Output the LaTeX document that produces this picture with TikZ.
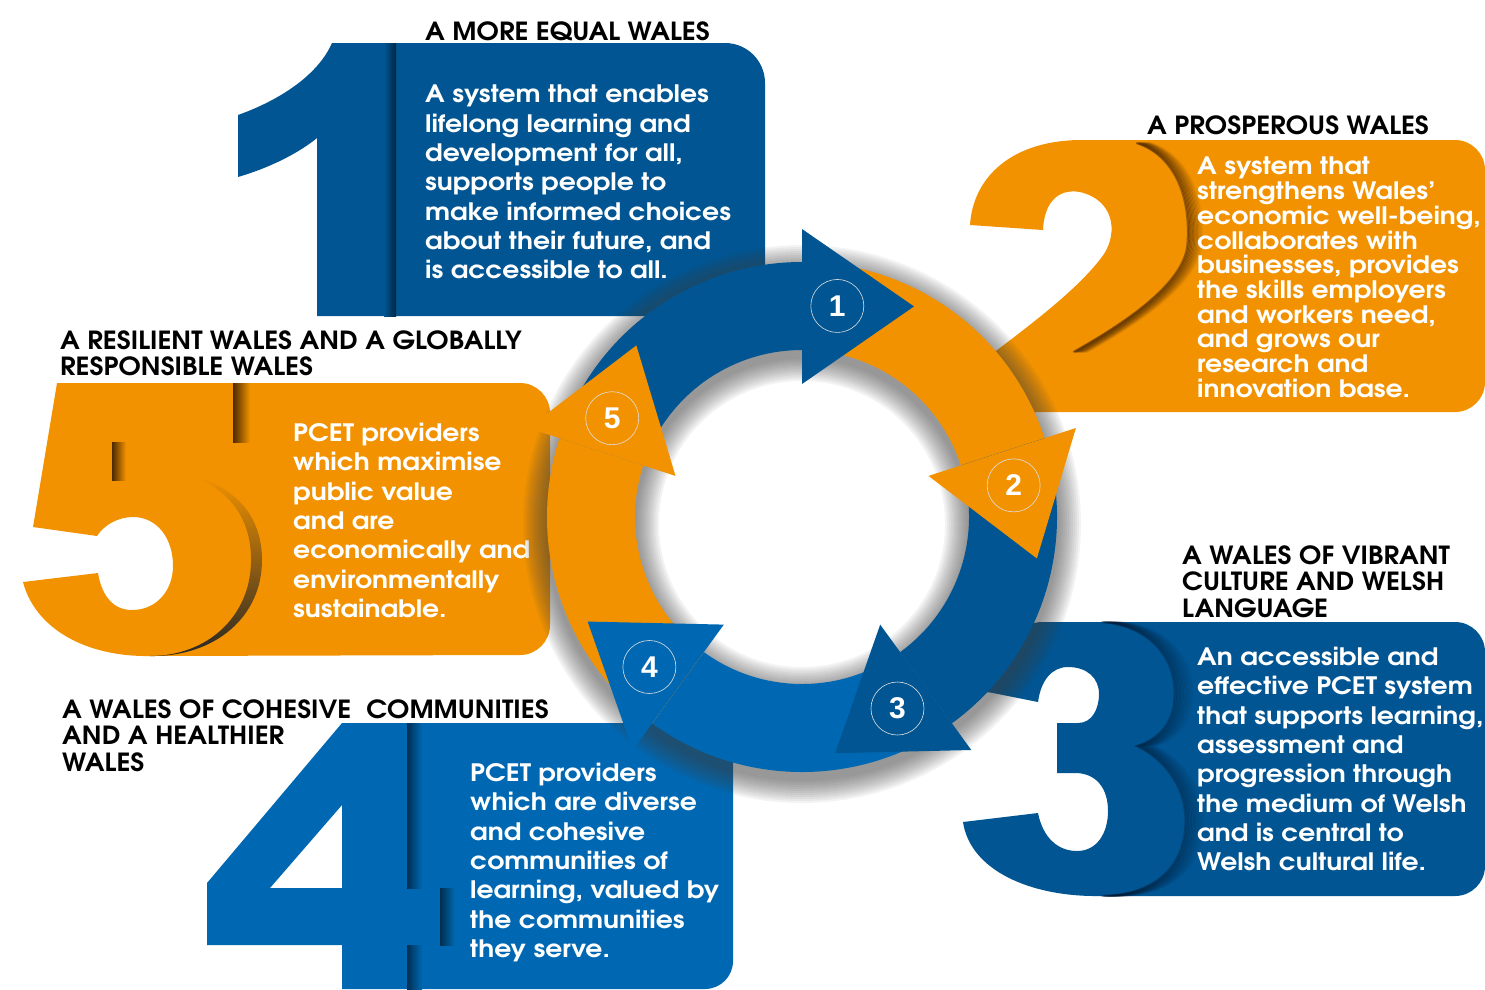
\documentclass[tikz,border=0pt]{standalone}
\usepackage{fontspec}
\setmainfont{texgyreadventor}[Extension=.otf, UprightFont=*-regular, BoldFont=*-bold, ItalicFont=*-italic, BoldItalicFont=*-bolditalic]
\newfontfamily\bodyfont{texgyreadventor-bold.otf}[FakeStretch=1.11]
\newfontfamily\headfont{texgyreadventor-bold.otf}[FakeStretch=1.07]
\newfontfamily\labelfont{Liberation Sans}
\usetikzlibrary{calc}
\definecolor{walesblue}{HTML}{005592}
\definecolor{walesmid}{HTML}{0068B2}
\definecolor{walesorange}{HTML}{F29200}
\definecolor{orangeshade}{HTML}{4E2A00}
\definecolor{blueshade}{HTML}{001A33}
\definecolor{ringshadow}{HTML}{404040}
\tikzset{
  boxtext/.style={anchor=north west, inner sep=0pt, align=left, text=white, font=\bodyfont\fontsize{24}{29.3}\selectfont},
  heading/.style={anchor=north west, inner sep=0pt, align=left, text=black, font=\headfont\fontsize{25}{26.6}\selectfont},
  ringlabel/.style={circle, draw=white!75!gray, line width=0.6pt, minimum size=53pt, inner sep=0pt, text=white, font=\labelfont\bfseries\fontsize{30}{30}\selectfont}
}

\begin{document}
\begin{tikzpicture}[x=1pt, y=-1pt]
    % Parameters
    \pgfmathsetmacro{\Rout}{255}
    \pgfmathsetmacro{\Rin}{167}
    % Canvas
    \fill[white] (0,0) rectangle (1485,989);
    \useasboundingbox (0,0) rectangle (1485,989);
    % Box 1 with its numeral
    \fill[walesblue] (317,316) -- (317,138) .. controls (300,152) and (272,167) .. (238,177) -- (238,115) .. controls (280,100) and (318,75) .. (332,43) -- (725,43) arc[start angle=270, end angle=360, radius=40] -- (765,316) -- cycle;
    \shade[left color=walesblue, right color=walesblue!45!black] (384,43) rectangle (396,316);
    % Box 2 with its numeral
    \fill[walesorange] (970,225) .. controls (973,177) and (1012,140) .. (1082,140) -- (1455,140) arc[start angle=270, end angle=360, radius=30] -- (1485,382) arc[start angle=0, end angle=90, radius=30] -- (988,412) -- (988,357) .. controls (1030,325) and (1080,288) .. (1104,254) .. controls (1118,232) and (1114,200) .. (1080,192) .. controls (1056,188) and (1044,205) .. (1043,230) -- cycle;
    \foreach \k [evaluate=\k as \op using {0.5*(13-\k)/12}] in {1,...,12}{
        \draw[orangeshade, line width=2pt, opacity=\op, xshift=\k*1.3pt] (1135,143) .. controls (1172,155) and (1190,195) .. (1186,245) .. controls (1182,285) and (1120,325) .. (1072,352);
    }
    % Box 3 with its numeral
    \fill[walesblue] (980,691) -- (990,630) -- (1040,622) -- (1455,622) arc[start angle=270, end angle=360, radius=30] -- (1485,866) arc[start angle=0, end angle=90, radius=30] -- (1100,896) .. controls (1030,897) and (970,870) .. (963,822) -- (1038,813) .. controls (1043,838) and (1058,851) .. (1077,851) .. controls (1097,851) and (1108,833) .. (1108,811) .. controls (1108,788) and (1096,773) .. (1075,773) -- (1057,773) -- (1057,723) -- (1078,723) .. controls (1092,723) and (1099,709) .. (1099,694) .. controls (1099,678) and (1087,667) .. (1068,667) .. controls (1052,667) and (1041,680) .. (1038,702) -- (993,693) -- cycle;
    \foreach \k [evaluate=\k as \op using {0.3*(15-\k)/14}] in {1,...,14}{
        \draw[blueshade, line width=2pt, opacity=\op, xshift=\k*1.4pt] (1100,622) .. controls (1150,626) and (1175,660) .. (1173,697) .. controls (1172,725) and (1155,740) .. (1135,746) .. controls (1165,760) and (1185,790) .. (1184,822) .. controls (1183,870) and (1150,895) .. (1100,896);
    }
    % Box 4 with its numeral
    \fill[walesmid, even odd rule] (342,723) -- (705,723) arc[start angle=270, end angle=360, radius=28] -- (733,961) arc[start angle=0, end angle=90, radius=28] -- (342,989) -- (342,945) -- (207,945) -- (207,883) -- cycle
        (342,805) -- (342,888) -- (270,888) -- cycle;
    \shade[left color=walesmid!45!black, right color=walesmid] (407,723) rectangle (422,888);
    \shade[left color=walesmid!45!black, right color=walesmid] (440,888) rectangle (455,945);
    \shade[left color=walesmid!45!black, right color=walesmid] (407,945) rectangle (422,989);
    % Box 5 with its numeral
    \fill[walesorange] (57,383) -- (520,383) arc[start angle=270, end angle=360, radius=30] -- (550,625) arc[start angle=0, end angle=90, radius=30] -- (150,656) .. controls (85,657) and (35,628) .. (23,582) -- (98,573) .. controls (102,597) and (114,610) .. (132,610) .. controls (157,610) and (173,590) .. (173,566) .. controls (173,538) and (157,517) .. (133,517) .. controls (118,517) and (104,525) .. (97,536) -- (33,527) -- cycle;
    \shade[left color=orangeshade, right color=walesorange] (233,383) rectangle (250,442);
    \shade[left color=orangeshade, right color=walesorange] (112,442) rectangle (126,480);
    \shade[top color=walesorange, bottom color=black!85] (190,475) .. controls (232,490) and (252,522) .. (251,562) .. controls (250,617) and (207,656) .. (150,656) .. controls (215,657) and (262,617) .. (262,560) .. controls (262,520) and (240,488) .. (190,475) -- cycle;
    % Headings
    \node[heading] (headequal) at (425,21) {A MORE EQUAL WALES};
    \node[heading] (headprosper) at (1147,115) {A PROSPEROUS WALES};
    \node[heading] (headculture) at (1182,545) {A WALES OF VIBRANT\\CULTURE AND WELSH\\LANGUAGE};
    \node[heading] (headcohesive) at (62,699) {A WALES OF COHESIVE\ \ COMMUNITIES\\AND A HEALTHIER\\WALES};
    \node[heading] (headresilient) at (60,330) {A RESILIENT WALES AND A GLOBALLY\\RESPONSIBLE WALES};
    % Texts
    \node[boxtext] (txtequal) at (425,85) {A system that enables\\lifelong learning and\\development for all,\\supports people to\\make informed choices\\about their future, and\\is accessible to all.};
    \node[boxtext, font=\bodyfont\fontsize{24}{24.7}\selectfont] (txtprosper) at (1197,157) {A system that\\strengthens Wales’\\economic well-being,\\collaborates with\\businesses, provides\\the skills employers\\and workers need,\\and grows our\\research and\\innovation base.};
    \node[boxtext] (txtculture) at (1197,647) {An accessible and\\effective PCET system\\that supports learning,\\assessment and\\progression through\\the medium of Welsh\\and is central to\\Welsh cultural life.};
    \node[boxtext] (txtcohesive) at (470,763) {PCET providers\\which are diverse\\and cohesive\\communities of\\learning, valued by\\the communities\\they serve.};
    \node[boxtext] (txtresilient) at (293,423) {PCET providers\\which maximise\\public value\\and are\\economically and\\environmentally\\sustainable.};
    % Ring
    \begin{scope}[shift={(802,517)}, yscale=-1]
        % shadow
        \foreach \k in {1,...,12}{
            \fill[ringshadow, opacity=0.06, even odd rule] (0,-7) circle[radius=\Rout+2*\k] (0,-7) circle[radius=\Rin-2*\k];
        }
        % arcs
        \foreach \i/\col in {1/walesblue, 2/walesorange, 3/walesblue, 4/walesmid, 5/walesorange}{
            \pgfmathsetmacro{\angA}{90-72*(\i-1)}
            \pgfmathsetmacro{\angB}{\angA+72}
            \fill[\col] (\angB:\Rout) arc[start angle=\angB, end angle=\angA, radius=\Rout] -- (\angA:\Rin) arc[start angle=\angA, end angle=\angB, radius=\Rin] -- cycle;
        }
        % heads and numbers
        \foreach \i/\col in {1/walesblue, 2/walesorange, 3/walesblue, 4/walesmid, 5/walesorange}{
            \pgfmathsetmacro{\angA}{90-72*(\i-1)}
            \pgfmathsetmacro{\angTip}{\angA-28}
            \pgfmathsetmacro{\angLab}{\angA-9.5}
            \fill[\col] (\angA:133) -- (\angA:288) -- (\angTip:238.5) -- cycle;
            \node[ringlabel] (num\i) at (\angLab:214) {\i};
        }
    \end{scope}
\end{tikzpicture}
\end{document}
